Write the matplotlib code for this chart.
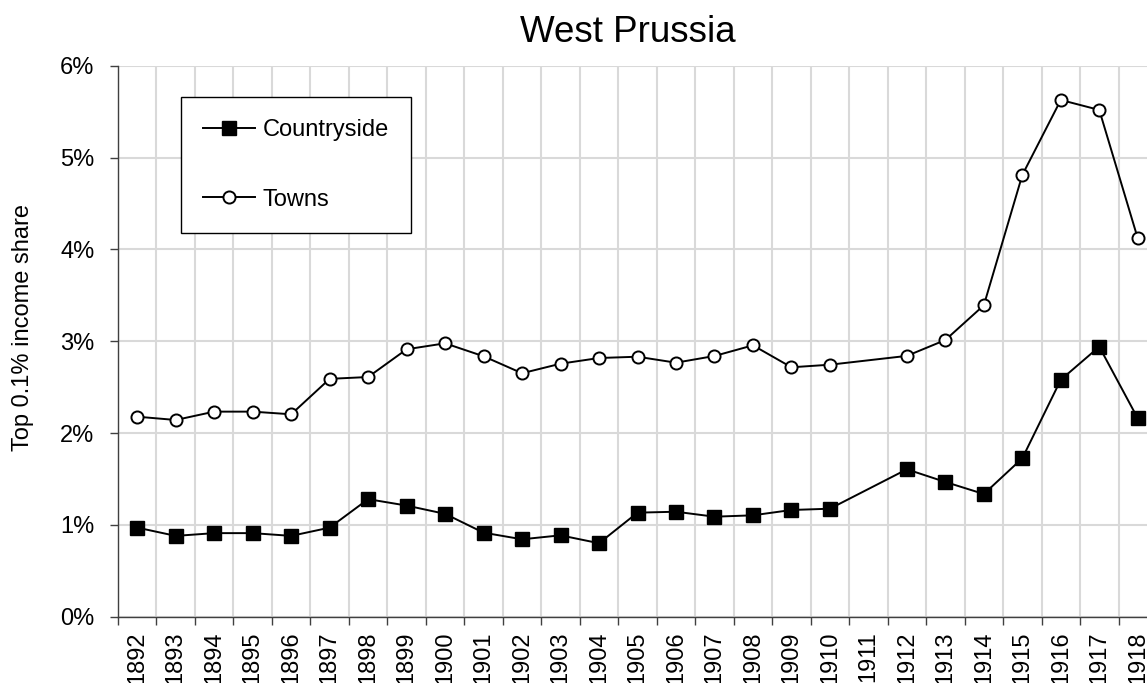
# West Prussia top 0.1% income share

import numpy as np
import matplotlib
matplotlib.use("Agg")
import matplotlib.pyplot as plt
from matplotlib.ticker import FuncFormatter

plt.rcParams['font.family'] = ['Liberation Sans', 'DejaVu Sans']

years = [str(y) for y in range(1892, 1919)]

# values in percent, 1911 missing
countryside = [0.97, 0.88, 0.91, 0.91, 0.88, 0.97, 1.28, 1.21, 1.12, 0.915,
               0.843, 0.886, 0.80, 1.133, 1.143, 1.089, 1.104, 1.162, 1.176, np.nan,
               1.605, 1.467, 1.336, 1.725, 2.58, 2.94, 2.16]
towns = [2.178, 2.142, 2.233, 2.233, 2.204, 2.59, 2.61, 2.912, 2.977, 2.836,
         2.651, 2.755, 2.817, 2.831, 2.766, 2.839, 2.955, 2.716, 2.744, np.nan,
         2.84, 3.013, 3.391, 4.81, 5.627, 5.518, 4.12]

W, H = 1147, 683
fig = plt.figure(figsize=(W / 100, H / 100), dpi=100)
# plot area runs past the right edge, like the original
ax = fig.add_axes([118 / W, 66.3 / H, 1039 / W, 551 / H])

x = np.arange(len(years))
c = np.array(countryside)
t = np.array(towns)
mc = ~np.isnan(c)
mt = ~np.isnan(t)

ax.plot(x[mc], c[mc], color="black", linewidth=1.4, marker="s", markersize=10.5,
        markerfacecolor="black", markeredgecolor="black", label="Countryside", zorder=3)
ax.plot(x[mt], t[mt], color="black", linewidth=1.4, marker="o", markersize=8.7,
        markerfacecolor="white", markeredgecolor="black", markeredgewidth=1.4,
        label="Towns", zorder=3)

ax.set_xlim(-0.5, len(years) - 0.5)
ax.set_ylim(0, 6)

# year labels at centres, ticks + grid at category boundaries
ax.set_xticks(x)
ax.set_xticklabels(years, rotation=90, fontsize=17)
ax.set_xticks(np.arange(len(years) + 1) - 0.5, minor=True)
ax.tick_params(axis="x", which="major", length=0, pad=10.5)
ax.tick_params(axis="x", which="minor", length=6, width=1, color="#404040", direction="out")
ax.grid(axis="x", which="minor", color="#d9d9d9", linewidth=1.5, zorder=0)

ax.set_yticks(range(0, 7))
ax.yaxis.set_major_formatter(FuncFormatter(lambda v, p: f"{int(v)}%"))
ax.tick_params(axis="y", length=6, width=1, color="#404040", labelsize=17, pad=11)
ax.grid(axis="y", which="major", color="#d9d9d9", linewidth=1.5, zorder=0)
ax.set_axisbelow(True)

for s in ["top", "right"]:
    ax.spines[s].set_visible(False)
for s in ["left", "bottom"]:
    ax.spines[s].set_color("#404040")
    ax.spines[s].set_linewidth(1)

ax.set_ylabel("Top 0.1% income share", fontsize=17)
ax.yaxis.set_label_coords((34 - 118) / 1039, 0.524)

fig.text(628 / W, 1 - 42 / H, "West Prussia", fontsize=26.5, ha="center", va="baseline")

leg = ax.legend(loc="upper left", bbox_to_anchor=(181 / W, 1 - 97 / H),
                bbox_transform=fig.transFigure, borderaxespad=0, fontsize=17,
                frameon=True, fancybox=False, framealpha=1, edgecolor="black",
                handlelength=2.2, handletextpad=0.3, labelspacing=2.0, borderpad=0.95)
leg.get_frame().set_linewidth(1)

fig.savefig("out.png", dpi=100)
